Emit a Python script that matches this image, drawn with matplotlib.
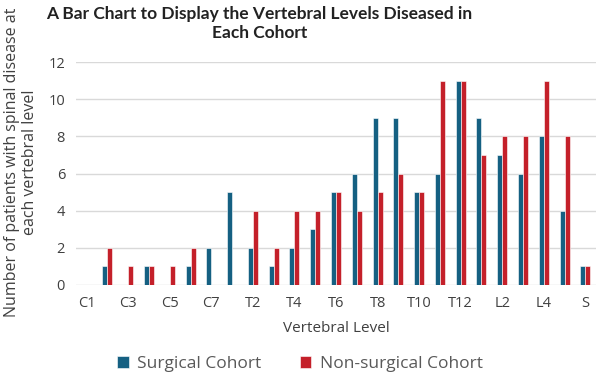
import numpy as np
import matplotlib
matplotlib.use("Agg")
import matplotlib.pyplot as plt

# data
levels = ["C1", "C2", "C3", "C4", "C5", "C6", "C7",
          "T1", "T2", "T3", "T4", "T5", "T6", "T7", "T8", "T9", "T10", "T11", "T12",
          "L1", "L2", "L3", "L4", "L5", "S"]
surgical = [0, 1, 0, 1, 0, 1, 2,
            5, 2, 1, 2, 3, 5, 6, 9, 9, 5, 6, 11,
            9, 7, 6, 8, 4, 1]
non_surgical = [0, 2, 1, 1, 1, 2, 0,
                0, 4, 2, 4, 4, 5, 4, 5, 6, 5, 11, 11,
                7, 8, 8, 11, 8, 1]

blue = "#156082"
red = "#C4202A"
grey_text = "#595959"

plt.rcParams['font.family'] = ['Open Sans', 'DejaVu Sans']

fig = plt.figure(figsize=(6, 3.84), dpi=100)
ax = fig.add_axes([0.127, 0.258, 0.866, 0.58])

x = np.arange(len(levels))
w = 0.24
ax.bar(x - w / 2, surgical, w, color=blue, edgecolor="white", linewidth=0.4,
       label="Surgical Cohort", zorder=3)
ax.bar(x + w / 2, non_surgical, w, color=red, edgecolor="white", linewidth=0.4,
       label="Non-surgical Cohort", zorder=3)

ax.set_xlim(-0.5, len(levels) - 0.5)
ax.set_ylim(0, 12)
ax.set_yticks(range(0, 13, 2))
ax.set_xticks(x[::2])
ax.set_xticklabels(levels[::2])
ax.tick_params(axis="both", length=0, labelsize=10.5, colors="#404040", pad=8)
ax.tick_params(axis="x", pad=8)

ax.grid(axis="y", color="#D9D9D9", linewidth=1, zorder=0)
for s in ax.spines.values():
    s.set_visible(False)

ax.set_xlabel("Vertebral Level", fontsize=11, color="#404040", labelpad=7)
ax.set_ylabel("Number of patients with spinal disease at\neach vertebral level",
              fontsize=11.5, color="#404040")
ax.yaxis.set_label_coords(-0.073, 0.55)

fig.text(0.432, 0.985, "A Bar Chart to Display the Vertebral Levels Diseased in\nEach Cohort",
         ha="center", va="top", fontsize=12.5, fontweight="bold",
         family=["Lato", "DejaVu Sans"], color="#222222", linespacing=1.25)

leg = fig.legend(loc="lower center", bbox_to_anchor=(0.5, -0.01), ncol=2, frameon=False,
                 fontsize=12.5, handlelength=0.65, handleheight=0.65, columnspacing=2.2,
                 handletextpad=0.5)
for t in leg.get_texts():
    t.set_color(grey_text)

fig.savefig("out.png", dpi=100)
